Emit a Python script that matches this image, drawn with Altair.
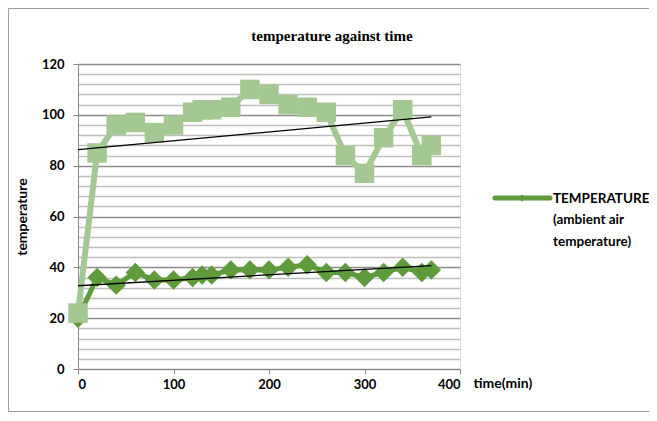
import altair as alt
import pandas as pd

# ---- data ----
time_min = [0, 20, 40, 60, 80, 100, 120, 130, 140, 160, 180, 200, 220, 240, 260, 280, 300, 320, 340, 360, 370]
light_series = [22, 85, 96, 97, 93, 96, 101, 102, 102, 103, 110, 108, 104, 103, 101, 84, 77, 91, 102, 84, 88]
ambient_air = [20, 36, 33, 38, 35, 35, 36, 37, 37, 39, 39, 39, 40, 41, 38, 38, 36, 38, 40, 38, 39]
x_ticks = [0, 100, 200, 300, 400]
y_ticks = list(range(0, 121, 4))  # gridlines every 4, labels every 20
legend_label = "TEMPERATURE\n(ambient air\ntemperature)"
chart_title = "temperature against time"

LIGHT = "#A3C892"
DARK = "#5F9A3B"
BG = "#E9EEE6"
FONT = "Lato"

df = pd.DataFrame({"time": time_min, "light": light_series, "dark": ambient_air})

x_axis = alt.Axis(
    values=x_ticks, title="time(min)", grid=False,
    domainColor="#8a8a8a", tickColor="#8a8a8a", tickSize=5,
    labelFont=FONT, labelFontWeight="bold", labelFontSize=13, labelColor="#000",
    labelPadding=4,
    titleFont=FONT, titleFontWeight="bold", titleFontSize=14, titleColor="#000",
    titleX=395, titleY=14, titleAlign="left", titleBaseline="middle",
)
y_axis = alt.Axis(
    values=y_ticks, title="temperature", grid=True,
    gridColor={"condition": {"test": "datum.value % 20 === 0", "value": "#8c8c8c"}, "value": "#bdbfbb"},
    gridWidth=1.3,
    tickOpacity={"condition": {"test": "datum.value % 20 === 0", "value": 1}, "value": 0},
    labelExpr="datum.value % 20 === 0 ? datum.label : ''",
    domainColor="#8a8a8a", tickColor="#8a8a8a", tickSize=5,
    labelFont=FONT, labelFontWeight="bold", labelFontSize=13, labelColor="#000",
    labelPadding=9,
    titleFont=FONT, titleFontWeight="bold", titleFontSize=14, titleColor="#000",
    titleX=-56, titleY=152.5, titleAngle=270, titleAlign="center", titleBaseline="middle",
)

xs = alt.Scale(domain=[0, 400], nice=False)
ys = alt.Scale(domain=[0, 120], nice=False)

base = alt.Chart(df)

dark_line = base.mark_line(
    color=DARK, strokeWidth=5,
    point=alt.OverlayMarkDef(shape="diamond", size=380, filled=True, color=DARK, opacity=1),
).encode(
    x=alt.X("time:Q", scale=xs, axis=x_axis),
    y=alt.Y("dark:Q", scale=ys, axis=y_axis),
)

light_line = base.mark_line(
    color=LIGHT, strokeWidth=6,
    point=alt.OverlayMarkDef(shape="square", size=380, filled=True, color=LIGHT, opacity=1),
).encode(
    x=alt.X("time:Q", scale=xs, axis=x_axis),
    y=alt.Y("light:Q", scale=ys, axis=y_axis),
)

light_trend = base.transform_regression("time", "light", method="linear").mark_line(
    color="#000", strokeWidth=1.3
).encode(
    x=alt.X("time:Q", scale=xs, axis=x_axis),
    y=alt.Y("light:Q", scale=ys, axis=y_axis),
)

dark_trend = base.transform_regression("time", "dark", method="linear").mark_line(
    color="#000", strokeWidth=1.3
).encode(
    x=alt.X("time:Q", scale=xs, axis=x_axis),
    y=alt.Y("dark:Q", scale=ys, axis=y_axis),
)

one = alt.Data(values=[{"label": legend_label, "title": chart_title}])

title_text = alt.Chart(one).mark_text(
    font="Liberation Serif", fontWeight="bold", fontSize=15, color="#000",
    align="center", baseline="middle",
).encode(x=alt.value(254), y=alt.value(-28), text="title:N")

legend_swatch = alt.Chart(one).mark_rule(color=DARK, strokeWidth=5, strokeCap="round").encode(
    x=alt.value(417), x2=alt.value(472), y=alt.value(134)
)
legend_marker = alt.Chart(one).mark_point(shape="diamond", filled=True, size=50, color=DARK, opacity=1).encode(
    x=alt.value(444), y=alt.value(134)
)
legend_text = alt.Chart(one).mark_text(
    font=FONT, fontWeight="bold", fontSize=13.5, color="#000", align="left",
    baseline="alphabetic", lineBreak="\n", lineHeight=21.5,
).encode(x=alt.value(475), y=alt.value(138.5), text="label:N")

border_color = "#9d9d9d"
border_left = alt.Chart(one).mark_rule(color=border_color, strokeWidth=1).encode(
    x=alt.value(-69.5), y=alt.value(-55.5), y2=alt.value(347.5)
)
border_top = alt.Chart(one).mark_rule(color=border_color, strokeWidth=1).encode(
    x=alt.value(-69.5), x2=alt.value(571), y=alt.value(-55.5)
)
border_bottom = alt.Chart(one).mark_rule(color=border_color, strokeWidth=1).encode(
    x=alt.value(-69.5), x2=alt.value(571), y=alt.value(347.5)
)

chart = alt.layer(
    dark_line, light_line, light_trend, dark_trend,
    title_text, legend_swatch, legend_marker, legend_text,
    border_left, border_top, border_bottom,
).properties(
    width=382, height=305,
    autosize=alt.AutoSizeParams(type="none"),
    padding={"left": 70, "top": 56, "right": 189, "bottom": 44},
).configure_view(fill=BG, strokeWidth=0).configure(background="#ffffff")

chart.save("out.html", embed_options={"renderer": "svg", "actions": False})
